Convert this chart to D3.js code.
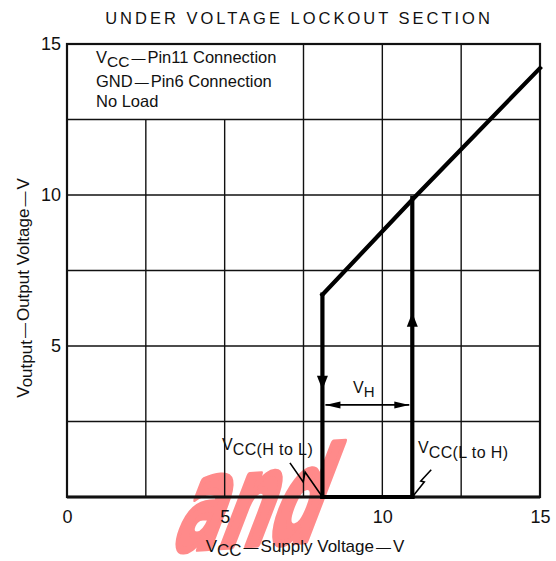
<!DOCTYPE html>
<html><head><meta charset="utf-8">
<script src="https://cdn.jsdelivr.net/npm/d3@7"></script>
<style>
body{margin:0;background:#fff}
svg{display:block}
text{font-family:"Liberation Sans",Arial,Helvetica,sans-serif;fill:#111}
</style>
</head><body><svg id="c" width="556" height="561"></svg>
<script>
// ---- data ----
const chartTitle = "UNDER VOLTAGE LOCKOUT SECTION";
const xTickLabels = [0, 5, 10, 15];
const yTickLabels = [5, 10, 15];
const gridValues = [2.5, 5, 7.5, 10, 12.5];
const legendBox = {x0: 0, x1: 7.5, y0: 12.5, y1: 15};
const legendLines = [["V", "CC", "Pin11 Connection"], ["GND", "", "Pin6 Connection"], ["No Load", null, null]];

// output voltage curve (hysteresis loop)
const upperX = [8.1, 11.0, 15];
const upperY = [6.7, 9.9, 14.2];
const fallX = [8.1, 8.1];
const fallY = [6.7, 0];
const riseX = [10.95, 10.95];
const riseY = [0, 9.9];
const baseX = [8.1, 10.95];
const baseY = [0, 0];
const arrowMarks = [{x: 8.1, y: 3.55, dir: 1}, {x: 10.95, y: 6.1, dir: -1}];
const vhX = [8.1, 10.95];
const vhY = 3.05;
// annotation leader zigzags (data units)
const hlLeaderX = [7.07, 7.49, 7.55, 8.1];
const hlLeaderY = [1.13, 0.5, 0.83, 0];
const lhLeaderX = [10.95, 11.33, 11.22, 11.55];
const lhLeaderY = [0, 0.5, 0.53, 0.9];

// ---- layout ----
const svg = d3.select("#c");
const x = d3.scaleLinear().domain([0, 15]).range([67, 540]);
const y = d3.scaleLinear().domain([0, 15]).range([497, 44]);

// watermark
svg.append("text")
  .attr("transform", "translate(170,550) rotate(-4) skewX(-25) scale(0.68,1.25)")
  .style("font-family", "'DejaVu Sans',sans-serif")
  .style("font-weight", "bold")
  .style("font-size", "100px").style("fill", "#ff8a8a")
  .style("stroke", "#ff8a8a").style("stroke-width", "6px").style("stroke-linejoin", "round")
  .text("and");

// grid
const g = svg.append("g").attr("stroke", "#111").attr("stroke-width", 1.4);
gridValues.forEach(v => {
  const top = v < legendBox.x1 ? legendBox.y0 : 15;
  g.append("line").attr("x1", x(v)).attr("x2", x(v)).attr("y1", y(0)).attr("y2", y(top));
  g.append("line").attr("x1", x(0)).attr("x2", x(15)).attr("y1", y(v)).attr("y2", y(v));
});
// frame
svg.append("rect").attr("x", x(0)).attr("y", y(15)).attr("width", x(15) - x(0)).attr("height", y(0) - y(15))
  .attr("fill", "none").attr("stroke", "#111").attr("stroke-width", 2.2);
svg.append("line").attr("x1", x(0)).attr("x2", x(15)).attr("y1", y(0)).attr("y2", y(0))
  .attr("stroke", "#111").attr("stroke-width", 3);

// axes labels via d3 axes
const xAxis = svg.append("g").attr("transform", `translate(0,${y(0)})`)
  .call(d3.axisBottom(x).tickValues(xTickLabels).tickSize(0).tickPadding(13).tickFormat(d3.format("d")));
const yAxis = svg.append("g").attr("transform", `translate(${x(0)},0)`)
  .call(d3.axisLeft(y).tickValues(yTickLabels).tickSize(0).tickPadding(6).tickFormat(d3.format("d")));
[xAxis, yAxis].forEach(a => {
  a.select(".domain").remove();
  a.selectAll("text").style("font-family", "'Liberation Sans',Arial,sans-serif").style("font-size", "18px").attr("fill", "#111");
});

// curve
const line = d3.line().x(d => x(d[0])).y(d => y(d[1]));
const curve = svg.append("g").attr("fill", "none").attr("stroke", "#000").attr("stroke-width", 4.2)
  .attr("stroke-linejoin", "miter").attr("stroke-linecap", "square");
[[upperX, upperY], [fallX, fallY], [riseX, riseY], [baseX, baseY]].forEach(([xs, ys]) => {
  curve.append("path").attr("d", line(xs.map((v, i) => [v, ys[i]])));
});
arrowMarks.forEach(a => {
  const px = x(a.x), py = y(a.y);
  svg.append("path")
    .attr("d", `M${px - 5.5},${py - a.dir * 14}L${px + 5.5},${py - a.dir * 14}L${px},${py}Z`)
    .attr("fill", "#000");
});

// VH dimension arrow
const vx0 = x(vhX[0]) + 3, vx1 = x(vhX[1]) - 3, vy = y(vhY);
svg.append("line").attr("x1", vx0).attr("x2", vx1).attr("y1", vy).attr("y2", vy).attr("stroke", "#000").attr("stroke-width", 1.6);
svg.append("path").attr("d", `M${vx0},${vy}L${vx0 + 15},${vy - 3.5}L${vx0 + 15},${vy + 3.5}Z`).attr("fill", "#000");
svg.append("path").attr("d", `M${vx1},${vy}L${vx1 - 15},${vy - 3.5}L${vx1 - 15},${vy + 3.5}Z`).attr("fill", "#000");
const vh = svg.append("text").attr("x", 353).attr("y", vy - 12).style("font-size", "16px");
vh.append("tspan").text("V");
vh.append("tspan").attr("dy", 4).style("font-size", "15px").text("H");

// leaders
[[hlLeaderX, hlLeaderY], [lhLeaderX, lhLeaderY]].forEach(([xs, ys]) => {
  svg.append("path").attr("d", line(xs.map((v, i) => [v, ys[i]]))).attr("fill", "none")
    .attr("stroke", "#000").attr("stroke-width", 1.6);
});
function vccLabel(px, py, rest) {
  const t = svg.append("text").attr("x", px).attr("y", py).style("font-size", "16px");
  t.append("tspan").text("V");
  t.append("tspan").attr("dy", 5).style("letter-spacing", "0.4px").text("CC" + rest);
}
vccLabel(222, 450, "(H to L)");
vccLabel(418, 453, "(L to H)");

// legend text
legendLines.forEach((l, i) => {
  const t = svg.append("text").attr("x", 96).attr("y", [63, 87, 107][i]).style("font-size", "16.5px");
  t.append("tspan").text(l[0]);
  if (l[1] !== null) {
    if (l[1]) t.append("tspan").attr("dy", 4).style("font-size", "15.5px").text(l[1]);
    t.append("tspan").attr("dy", l[1] ? -4 : 0).attr("dx", 2).style("font-size", "14px").text("\u2014");
    t.append("tspan").attr("dx", 2).text(l[2]);
  }
});

// title
svg.append("text").attr("x", 299).attr("y", 24).attr("text-anchor", "middle")
  .style("font-size", "16.5px").style("letter-spacing", "3px").text(chartTitle);

// axis titles
const xt = svg.append("text").attr("x", 305).attr("y", 552).attr("text-anchor", "middle").style("font-size", "17px");
xt.append("tspan").text("V");
xt.append("tspan").attr("dy", 4).text("CC");
xt.append("tspan").attr("dy", -4).attr("dx", 2).style("font-size", "15px").text("\u2014");
xt.append("tspan").attr("dx", 2).text("Supply Voltage");
xt.append("tspan").attr("dx", 2).style("font-size", "15px").text("\u2014");
xt.append("tspan").attr("dx", 2).text("V");

const yt = svg.append("text").attr("transform", "translate(29,288) rotate(-90)").attr("text-anchor", "middle").style("font-size", "17px");
yt.append("tspan").text("V");
yt.append("tspan").attr("dy", 3).text("output");
yt.append("tspan").attr("dy", -3).attr("dx", 2).style("font-size", "15px").text("\u2014");
yt.append("tspan").attr("dx", 2).text("Output Voltage");
yt.append("tspan").attr("dx", 2).style("font-size", "15px").text("\u2014");
yt.append("tspan").attr("dx", 2).text("V");
</script></body></html>
